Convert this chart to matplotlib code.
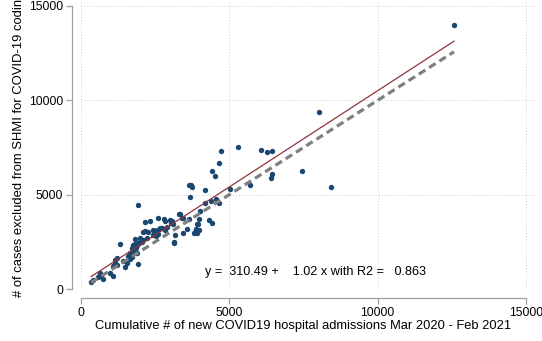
import matplotlib
matplotlib.use("Agg")
import matplotlib.pyplot as plt
import numpy as np

plt.rcParams['font.family'] = ['Liberation Sans', 'DejaVu Sans']

# Cumulative new COVID19 hospital admissions (x) vs cases excluded from SHMI (y)
admissions = [
    340, 420, 580, 660, 730, 640, 1090, 1090, 1150, 1200, 1150, 1220, 1330, 1480,
    1540, 1650, 1710, 1760, 1880, 1930, 1710, 1820, 1880, 1930, 1990, 2050,
    1921, 2167, 2315, 2595, 2797, 2842, 3057, 3023, 3337, 3428, 2100, 2167, 2258,
    2437, 2551, 2663, 2730, 2821, 1830, 1989, 2080, 2214, 2437, 2528, 1742, 1810,
    1877, 1944, 2056, 1763, 1854, 1651, 1854, 3134, 3448, 3832, 3967, 3919,
    3640, 3719, 3752, 3663, 4169, 4179, 4371, 4560, 4662, 4011, 3313, 3414, 3000,
    3090, 3640, 3967, 3953, 4314, 4426, 3876, 3899, 3158, 3134, 3583, 3808,
    977, 617, 2900, 2450, 1600, 1400, 2600,
    4708, 4651, 4404, 4505, 5011, 5302, 6077, 6279, 6437, 7449, 6448, 6393, 5706,
    8011, 8426, 12572,
]
excluded = [
    380, 480, 620, 690, 520, 830, 690, 1220, 1360, 1270, 1540, 1630, 2380, 1180,
    1360, 1570, 1710, 1890, 1890, 1310, 2160, 2240, 2330, 2420, 2510, 2600,
    4436, 3567, 3604, 3747, 3694, 3604, 3604, 3482, 3959, 3779, 3037, 3074, 3037,
    3143, 3143, 3217, 3217, 3127, 2634, 2687, 2597, 2687, 2862, 2793, 2332, 2385,
    2332, 2438, 2475, 2157, 2189, 1892, 1892, 2454, 2968, 3005, 3143, 3429,
    5527, 5495, 5405, 4875, 5231, 4542, 4679, 4754, 4573, 4134, 3975, 3779, 3641,
    3445, 3694, 3726, 3445, 3657, 3514, 3196, 2984, 2878, 2507, 3164, 2984,
    832, 689, 3300, 2950, 1750, 1500, 2900,
    7329, 6677, 6253, 5988, 5283, 7541, 7366, 7260, 7329, 6237, 6094, 5882, 5495,
    9396, 5421, 13990,
]
fit_intercept = 310.49
fit_slope = 1.02
r2 = 0.863
ticks = [0, 5000, 10000, 15000]
xlabel = "Cumulative # of new COVID19 hospital admissions Mar 2020 - Feb 2021"
ylabel = "# of cases excluded from SHMI for COVID-19 coding"
annotation = "y =  310.49 +    1.02 x with R2 =   0.863"

W, H = 542, 341
fig = plt.figure(figsize=(W / 100, H / 100), dpi=100)
ax = fig.add_axes([81 / W, (H - 289) / H, (536 - 81) / W, 289 / H])

x = np.array(admissions, dtype=float)
y = np.array(excluded, dtype=float)

ax.scatter(x, y, s=15, color='#1a476f', linewidths=0, zorder=3, clip_on=False)
xr = np.array([x.min(), x.max()])
ax.plot(xr, fit_intercept + fit_slope * xr, color='#90353b', lw=0.9, zorder=4)
ax.plot(xr, xr, color='#808080', lw=2.3, dashes=(2.4, 1.4), zorder=4)

ax.text(4180, 900, annotation, fontsize=9.1, ha='left', va='center')

ax.set_xlim(0, 15337)
ax.set_ylim(0, 15318)
ax.set_xticks(ticks)
ax.set_yticks(ticks)
ax.set_xticklabels([str(t) for t in ticks])
ax.set_yticklabels([str(t) for t in ticks])

ax.grid(True, color='#cccccc', linestyle=(0, (1, 2)), lw=0.7)
ax.set_axisbelow(True)

for s in ['top', 'right']:
    ax.spines[s].set_visible(False)
for s in ['left', 'bottom']:
    ax.spines[s].set_position(('outward', 6.5))
    ax.spines[s].set_color('#a0a0a0')
    ax.spines[s].set_linewidth(0.9)
    ax.spines[s].set_bounds(0, 15000)

ax.tick_params(axis='both', colors='#a0a0a0', labelcolor='black', length=4.5,
               width=0.9, labelsize=8.8, pad=2)

ax.set_xlabel(xlabel, fontsize=9.3)
ax.xaxis.set_label_coords(0.488, -0.108)
ax.set_ylabel(ylabel, fontsize=9.4, labelpad=3)

fig.savefig('out.png', dpi=100)
